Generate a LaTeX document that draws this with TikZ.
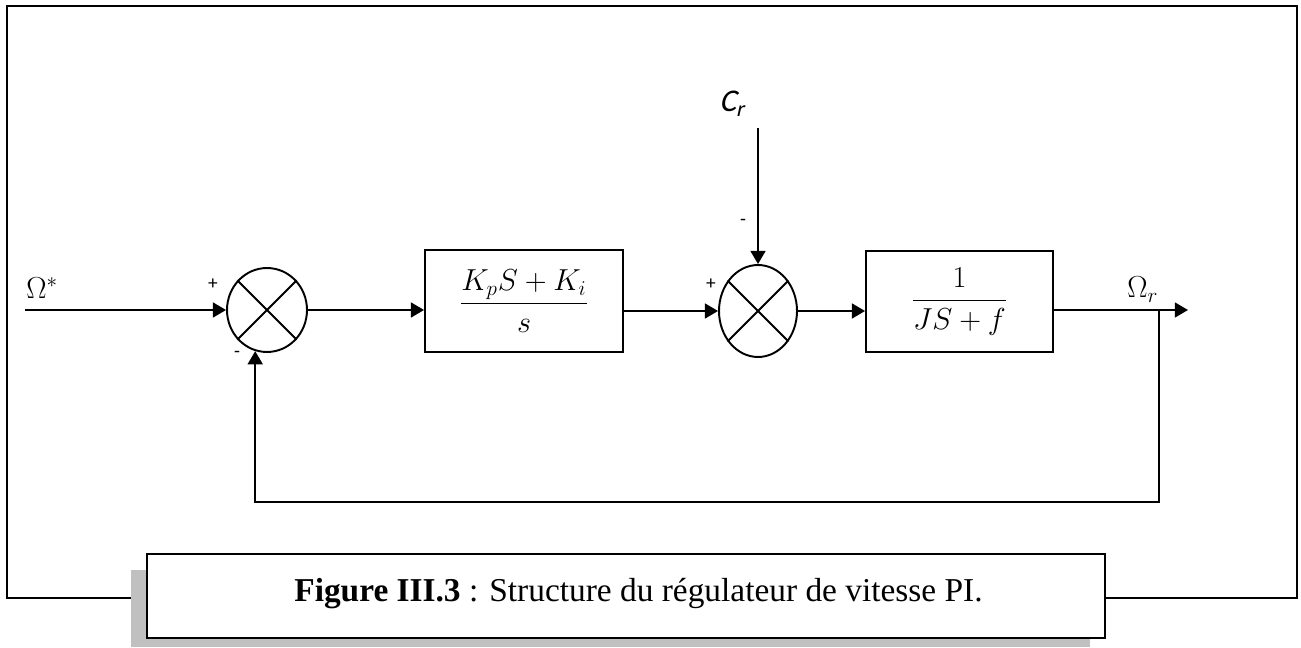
\documentclass[tikz,border=0pt]{standalone}
\usepackage{amsmath}
\usepackage{fontspec}
\setmainfont{Liberation Serif}
\newfontfamily\calfont{Carlito}
\newfontfamily\calslant{Carlito}[FakeSlant=0.22]
\usetikzlibrary{arrows.meta,shapes.geometric}
\definecolor{shadow}{HTML}{C0C0C0}
\tikzset{
  every node/.style={inner sep=0pt},
  wire/.style={line width=1.1pt},
  sig/.style={wire,-{Triangle[length=7.5pt,width=8.5pt]}},
  blk/.style={draw,wire,font=\fontsize{17}{20}\selectfont},
  sum/.style={draw,ellipse,wire},
  sgn/.style={font=\calfont\fontsize{11}{12}\selectfont},
  lbl/.style={font=\fontsize{17}{20}\selectfont,anchor=base west},
  capbox/.style={draw,wire,fill=white,minimum width=19.16cm,minimum height=1.68cm},
}

\begin{document}
\begin{tikzpicture}[x=0.02cm,y=-0.02cm]
\useasboundingbox (0,0) rectangle (1301,648);
\draw[wire] (7,6) rectangle (1297,598);

% blocks and summing points
\node[sum,minimum width=1.6cm,minimum height=1.68cm] (sum1) at (267,310) {};
\node[blk,minimum width=3.96cm,minimum height=2.04cm] (pi) at (524,301) {$\dfrac{K_pS+K_i}{s}$};
\node[sum,minimum width=1.56cm,minimum height=1.84cm] (sum2) at (758,311) {};
\node[blk,minimum width=3.74cm,minimum height=2.02cm] (meca) at (959.5,301.5) {$\dfrac{1}{JS+f}$};
\foreach \s in {sum1,sum2}{
  \draw[wire] (\s.45) -- (\s.225);
  \draw[wire] (\s.135) -- (\s.315);
}

\coordinate (in) at (25,310);
\coordinate (out) at (1188,310);
\coordinate (tap) at (1159,310);
\coordinate (cr) at (758,128);
\coordinate (fb) at (0,502);

\node[lbl] (wref) at (26,299) {$\Omega^*$};
\node[lbl] (wr) at (1127,298) {$\Omega_r$};
\node[lbl,font=\calslant\fontsize{18}{20}\selectfont] (cl) at (719,112) {C\textsubscript{r}};

\node[sgn] (p1) at (213,284) {+};
\node[sgn] (m1) at (237,354) {-};
\node[sgn] (p2) at (711,284) {+};
\node[sgn] (m2) at (743,222) {-};

\draw[sig] (in) -- (sum1.west);
\draw[sig] (sum1.east) -- (pi.west |- sum1.east);
\draw[sig] (pi.east |- sum2.west) -- (sum2.west);
\draw[sig] (cr) -- (sum2.north);
\draw[sig] (sum2.east) -- (meca.west |- sum2.east);
\draw[sig] (meca.east |- out) -- (out);
\draw[sig] (tap) |- (fb -| sum1.254) -- (sum1.254);

% caption
\fill[shadow] (131,570) rectangle (1090,647);
\node[capbox] (cap) at (626,596) {};
\node[anchor=base west,font=\fontsize{19}{22}\selectfont] (captxt) at (294,601)
 {\textbf{Figure III.3} : Structure du régulateur de vitesse PI.};
\end{tikzpicture}
\end{document}
